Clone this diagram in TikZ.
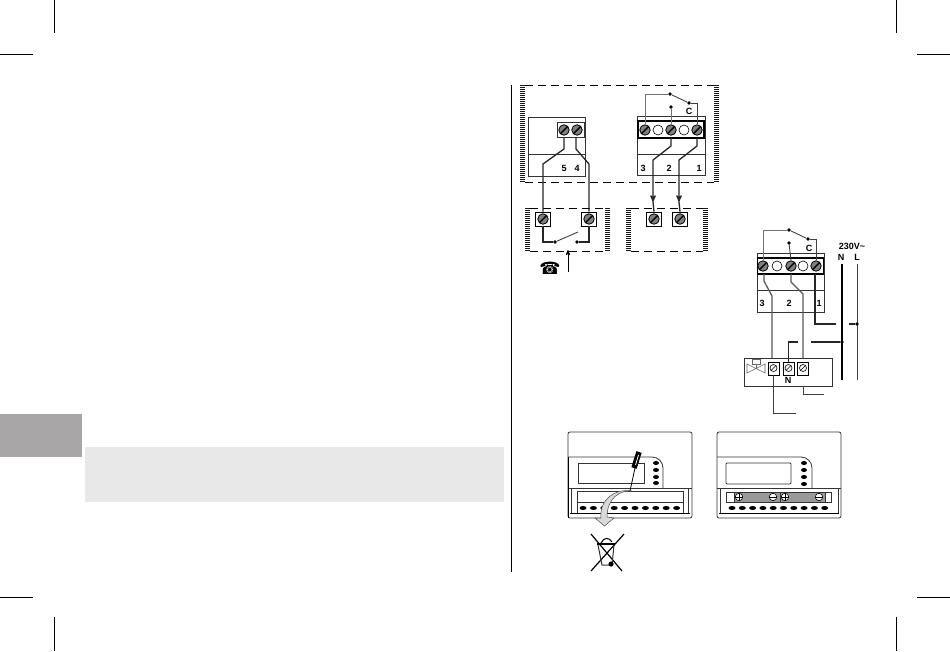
\documentclass[tikz,border=0pt]{standalone}
\usepackage{fontspec}
\setmainfont{Liberation Sans}
\newfontfamily\symfont{DejaVu Sans}
\usetikzlibrary{arrows}
\usetikzlibrary{calc}
\usetikzlibrary{shapes.geometric}
\definecolor{tabgray}{HTML}{A8A6A6}
\definecolor{bandgray}{HTML}{E8E8E8}
\tikzset{
  screw/.style={circle,draw=black,fill=black!50,line width=.8pt,minimum size=10.5pt,inner sep=0pt,
    path picture={\draw[black,line width=1.4pt] (path picture bounding box.south west)--(path picture bounding box.north east);}},
  hole/.style={circle,draw=black,fill=white,line width=.6pt,minimum size=10pt,inner sep=0pt},
  valvescrew/.style={circle,draw=black,fill=white,line width=.6pt,minimum size=7pt,inner sep=0pt,
    path picture={\draw[black,line width=.6pt] (path picture bounding box.south west)--(path picture bounding box.north east);}},
  termbox/.style={rectangle,draw=black,fill=white,line width=.8pt,minimum width=15pt,minimum height=14pt,inner sep=0pt},
  valvebox/.style={rectangle,draw=black,fill=white,line width=.8pt,minimum width=11pt,minimum height=13pt,inner sep=0pt},
  wire/.style={draw=black!85,line width=1.3pt},
  thinwire/.style={draw=black!75,line width=.9pt},
  greywire/.style={draw=black!55,line width=1pt},
  contact/.style={circle,fill=black,minimum size=3.6pt,inner sep=0pt},
  hatchbar/.style={draw=black!90,line width=5pt,dash pattern=on 1pt off 1pt},
  dashline/.style={draw=black,line width=.8pt,dash pattern=on 8pt off 5pt},
  case/.style={draw=black!80,line width=.8pt},
  btn/.style={ellipse,fill=black,minimum width=6pt,minimum height=4pt,inner sep=0pt},
  lbl/.style={font=\fontsize{9}{9}\selectfont\bfseries,inner sep=0pt},
  batsign/.style={circle,draw=black,fill=white,line width=.6pt,minimum size=7.5pt,inner sep=0pt},
}
\begin{document}
\begin{tikzpicture}[x=1pt,y=-1pt,>=stealth']
\useasboundingbox (0,0) rectangle (950,651);
% crop marks
\foreach \x/\y/\u/\v in {0/54/33/54, 917/54/950/54, 0/597/33/597, 917/597/950/597,
   54/0/54/33, 896/0/896/33, 54/617/54/651, 896/617/896/651} {
 \draw[black,line width=.8pt] (\x,\y)--(\u,\v);
}
% page parts
\fill[tabgray] (0,414) rectangle (82,457);
\fill[bandgray] (85,447) rectangle (504,502);
\draw[black,line width=.9pt] (511,85)--(511,572);

% upper box
\draw[dashline] (525,85)--(714,85);
\draw[dashline] (525,182)--(714,182);
\draw[hatchbar] (522.5,85)--(522.5,182);
\draw[hatchbar] (716.5,85)--(716.5,182);

% phone terminal
\draw[case] (528,117) rectangle (585,176);
\draw[case] (528,154)--(585,154);
\draw[case] (557,122) rectangle (584,137);
\node[screw] (sFive) at (564,130) {};
\node[screw] (sFour) at (577,130) {};
\node[lbl] (nFive) at (564,168) {5};
\node[lbl] (nFour) at (577,168) {4};

% phone box
\draw[dashline] (530,208)--(605,208);
\draw[dashline] (530,251)--(605,251);
\draw[hatchbar] (527.5,208)--(527.5,251);
\draw[hatchbar] (607.5,208)--(607.5,251);
\node[termbox] (tPa) at (543,219) {};
\node[termbox] (tPb) at (589,219) {};
\node[screw] (sPa) at (543,219) {};
\node[screw] (sPb) at (589,219) {};
\draw[wire] ([yshift=-8pt]sFive.center) --++(0,11) --++(-21,15) -- (tPa.north);
\draw[wire] ([yshift=-8pt,xshift=-1pt]sFour.center) --++(0,11) --++(13,15) -- (tPb.north);
\node[contact] (cPa) at (555,242) {};
\node[contact] (cPb) at (577,242) {};
\coordinate (armP) at (578,232);
\draw[wire] (tPa.south) |- (cPa);
\draw[wire] (tPb.south) |- (cPb);
\draw[thinwire] (cPa)--(armP);
\node[font=\symfont\fontsize{17}{17}\selectfont,inner sep=0pt] (phone) at (550,268) {☎};
\coordinate (pushA) at (568,272);
\coordinate (pushB) at (568,250);
\draw[black,line width=.8pt,->] (pushA)--(pushB);

% boiler terminal
\draw[case] (637,116) rectangle (705,175);
\draw[case] (637,154)--(705,154);
\draw[black,line width=1.6pt] (638,121) rectangle (704,138);
\foreach \x/\n in {645/a,671/c,697/e} { \node[screw] (sB\n) at (\x,130) {}; }
\foreach \x/\n in {658/b,684/d} { \node[hole] (sB\n) at (\x,130) {}; }
\node[lbl] (nB3) at (643,168) {3};
\node[lbl] (nB2) at (669,168) {2};
\node[lbl] (nB1) at (699,168) {1};
\node[lbl] (nBc) at (689,111) {C};
\node[contact] (cBa) at (670,94) {};
\node[contact] (cBb) at (689,103) {};
\node[contact] (cBc) at (671,107) {};
\draw[greywire] (sBa.north) |- (cBa);
\draw[thinwire] (cBa)--(cBb);
\draw[thinwire] (cBb) -| (sBe.north);
\draw[greywire] (cBc)--(sBc.north);

% boiler box
\draw[dashline] (631,208)--(703,208);
\draw[dashline] (631,251)--(703,251);
\draw[hatchbar] (628.5,208)--(628.5,251);
\draw[hatchbar] (705.5,208)--(705.5,251);
\node[termbox] (tBa) at (654,219) {};
\node[termbox] (tBb) at (680,219) {};
\node[screw] (sTa) at (654,219) {};
\node[screw] (sTb) at (680,219) {};
\draw[wire,->] ([yshift=-8pt]sBc.center) --++(0,8) --++(-18,14) --++(0,42) coordinate (tipA);
\draw[wire] (tipA)--(tBa.north);
\draw[wire,->] ([yshift=-8pt]sBe.center) --++(0,8) --++(-18,14) --++(0,42) coordinate (tipB);
\draw[wire] (tipB)--(tBb.north);

% valve wiring
\draw[case] (757,253) rectangle (824,312);
\draw[case] (757,290)--(824,290);
\draw[black,line width=1.6pt] (757.5,258) rectangle (823.5,274);
\foreach \x/\n in {763/a,791/c,816/e} { \node[screw] (sV\n) at (\x,266) {}; }
\foreach \x/\n in {777/b,803/d} { \node[hole] (sV\n) at (\x,266) {}; }
\node[lbl] (nV3) at (762,303) {3};
\node[lbl] (nV2) at (789,303) {2};
\node[lbl] (nV1) at (819,303) {1};
\node[lbl] (nVc) at (809,248) {C};
\node[lbl] (nVolt) at (852,246) {230V\textasciitilde};
\node[lbl] (nN) at (841,257) {N};
\node[lbl] (nL) at (857,257) {L};
\node[contact] (cVa) at (789,230) {};
\node[contact] (cVb) at (808,239) {};
\node[contact] (cVc) at (789,243) {};
\draw[greywire] (sVa.north) |- (cVa);
\draw[thinwire] (cVa)--(cVb);
\draw[thinwire] (cVb) -| (sVe.north);
\draw[thinwire] (cVc)--(sVc.north);

% valve
\draw[case] (744,358) rectangle (832,386);
\node[valvebox] (tVa) at (773.5,368.5) {};
\node[valvebox] (tVb) at (788.5,368.5) {};
\node[valvebox] (tVc) at (803,368.5) {};
\node[valvescrew] (sWa) at (773.5,368) {};
\node[valvescrew] (sWb) at (788.5,368) {};
\node[valvescrew] (sWc) at (803,368) {};
\node[lbl] (nVn) at (788,380) {N};
\draw[black!60,line width=.6pt] (747,364)--(765,373)--(765,364)--(747,373)--cycle;
\draw[black!60,line width=.6pt] (756,368)--(756,364) (752,359) rectangle (760,364);
\draw[wire,black!65] ([yshift=-8pt,xshift=1pt]sVa.center) --++(0,7) --++(8,15) -- (772,358);
\draw[wire,black!65] ([yshift=-8pt]sVc.center) --++(0,8) --++(12,12) -- (803,358);
\coordinate (lineNtop) at (842,264);
\coordinate (lineNbot) at (842,380);
\coordinate (lineLtop) at (857,264);
\coordinate (lineLbot) at (857,380);
\draw[black,line width=1.7pt] (lineNtop)--(lineNbot);
\draw[black!75,line width=1pt] (lineLtop)--(lineLbot);
\node[contact] (cL) at (857,324) {};
\node[contact] (cN) at (842,342) {};
\draw[wire] ([yshift=-8pt,xshift=-1pt]sVe.center) |- (836,324);
\draw[wire] (849,324)--(cL);
\draw[wire] (tVb.north) |- (798,342);
\draw[wire] (811,342)--(cN);
\draw[thinwire] (tVc.south |- 0,386) |- (824,394);
\draw[thinwire] (tVa.south) |- (796,413);

% device left
\draw[case,rounded corners=2pt] (568,518)--(568,432)--(692,432)--(692,518)--cycle;
\draw[case,rounded corners=11pt] (568,457)--(663,457)--(663,488);
\draw[case] (568,488)--(692,488);
\draw[black,line width=1.2pt] (568.5,457)--(568.5,518);
\draw[case] (578,463) rectangle (644,483);
\foreach \y in {463,470,477,483} { \node[btn] at (656,\y) {}; }
\draw[case] (571,488)--(571,513) (688,488)--(688,513);
\draw[case] (577,491) rectangle (683,502);
\draw[case] (577,502)--(577,513) (683,502)--(683,513);
\draw[black,line width=1pt] (570,513)--(690,513);
\foreach \i in {0,...,9} { \node[btn,minimum width=7pt] at (583+10.4*\i,508) {}; }
% screwdriver and its arrow
\draw[draw=black!70,fill=black!15,line width=.5pt] (632,491) .. controls (620,490) and (607,498) .. (607,517)
  -- (614,518) -- (604.5,526) -- (595,518) -- (601,518) .. controls (599,500) and (615,488) .. (632,491) -- cycle;
\draw[black,line width=.8pt] (635,468)--(630,491);
\draw[black,line width=5.5pt] (639,452)--(634,468);
\draw[white,line width=.8pt] (638.5,455)--(635.5,465);

% device right
\draw[case,rounded corners=2pt] (717,518)--(717,432)--(841,432)--(841,518)--cycle;
\draw[case,rounded corners=11pt] (717,457)--(812,457)--(812,488);
\draw[case] (717,488)--(841,488);
\draw[case,rounded corners=1pt] (726,463) rectangle (791,484);
\foreach \y in {463,470,477,484} { \node[btn] at (804,\y) {}; }
\draw[case] (720,488)--(720,513) (838,488)--(838,513);
\draw[black,line width=1pt] (719,513)--(839,513);
\draw[case] (726,492) rectangle (831,502);
\draw[case,fill=black!40] (734,492) rectangle (780,502);
\draw[case,fill=black!40] (780,492) rectangle (825,502);
\foreach \x in {739,785} { \node[batsign] (pl\x) at (\x,497) {};
 \draw[black,line width=.6pt] (pl\x.west)--(pl\x.east) (pl\x.north)--(pl\x.south); }
\foreach \x in {773,819} { \node[batsign] (mi\x) at (\x,497) {};
 \draw[black,line width=.6pt] (mi\x.west)--(mi\x.east); }
\foreach \i in {0,...,9} { \node[btn,minimum width=7pt] at (732+10.3*\i,508) {}; }

% bin
\draw[black,line width=1.2pt] (591,534)--(622,571) (624,534)--(591,571);
\draw[black!80,line width=1pt] (598,545)--(602,565)--(612,565)--(614,545);
\draw[black,line width=2pt] (597,544)--(615,544);
\draw[black,line width=1pt] (601,543) .. controls (604,537) and (609,537) .. (612,542);
\fill[black] (611,564) circle (2.6pt);
\end{tikzpicture}
\end{document}
